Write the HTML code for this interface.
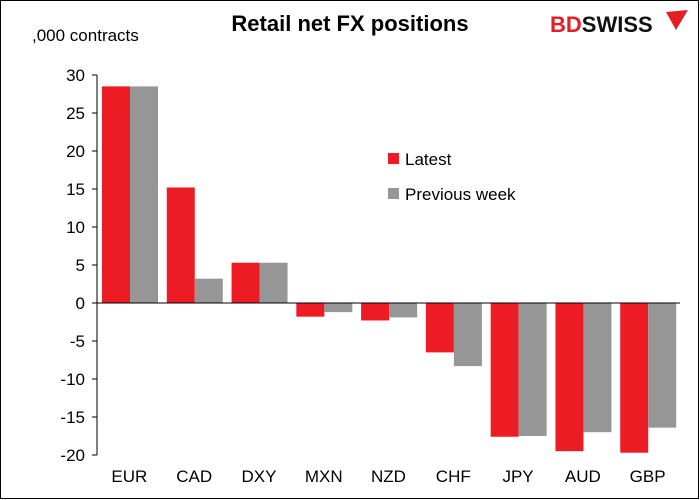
<!DOCTYPE html>
<html><head><meta charset="utf-8"><style>
body{margin:0;background:#fff;}
svg{display:block;font-family:"Liberation Sans",Arial,sans-serif;}
</style></head><body>
<svg id="c" width="700" height="500">
<rect x="0.5" y="0.5" width="698" height="498" fill="#fff" stroke="#000" stroke-width="1"/>
<text x="350" y="31" text-anchor="middle" font-size="22" font-weight="bold">Retail net FX positions</text>
<text x="32" y="41" font-size="17">,000 contracts</text>
<g>
<text x="550" y="32" font-size="22" font-weight="bold" fill="#e31e24">BD<tspan fill="#111">SWISS</tspan></text>
<path d="M666 12 L688 10 L676 30 Z" fill="#e31e24"/>
</g>
<g id="plot"></g>
</svg>
<script>
const categories=["EUR","CAD","DXY","MXN","NZD","CHF","JPY","AUD","GBP"];
const latest=[28.5,15.2,5.3,-1.8,-2.3,-6.5,-17.6,-19.5,-19.7];
const previous=[28.5,3.2,5.3,-1.2,-1.9,-8.3,-17.5,-17.0,-16.4];
const ticks=[30,25,20,15,10,5,0,-5,-10,-15,-20];
const X0=97,X1=680,ymin=-20,ymax=30,Y0=455,Y1=75;
const ns="http://www.w3.org/2000/svg";
const g=document.getElementById('plot');
const y=v=>Y0-(v-ymin)/(ymax-ymin)*(Y0-Y1);
const bw=(X1-X0)/categories.length;
function mk(t,a,p){const e=document.createElementNS(ns,t);for(const k in a)e.setAttribute(k,a[k]);(p||g).appendChild(e);return e;}
const ax=mk('line',{x1:X0,x2:X0,y1:Y1,y2:Y0,stroke:'#000'});


ticks.forEach(t=>{
 const l=mk('line',{x1:X0-5,x2:X0,y1:y(t),y2:y(t),stroke:'#000'});
 
 
 const tx=mk('text',{x:X0-12,y:y(t)+6,'text-anchor':'end','font-size':17});
 tx.textContent=t;
 
 
});
categories.forEach((c,i)=>{
 const cx=X0+bw*i;
 const r=mk('rect',{x:cx+5,width:28,y:Math.min(y(0),y(latest[i])),height:Math.abs(y(latest[i])-y(0)),fill:'#ed1c24'});
 
 
 const p=mk('rect',{x:cx+33,width:28,y:Math.min(y(0),y(previous[i])),height:Math.abs(y(previous[i])-y(0)),fill:'#969696'});
 
 
 const tx=mk('text',{x:cx+bw/2,y:482,'text-anchor':'middle','font-size':17});
 tx.textContent=c;
 
 
});
const z=mk('line',{x1:X0,x2:X1,y1:y(0),y2:y(0),stroke:'#000'});


[["Latest","#ed1c24",160],["Previous week","#969696",195]].forEach(([n,col,yy])=>{
 const r=mk('rect',{x:388,y:yy-7,width:11,height:11,fill:col});
 
 
 const t=mk('text',{x:405,y:yy+5,'font-size':17});
 t.textContent=n;
 
 
});
</script>
</body></html>
